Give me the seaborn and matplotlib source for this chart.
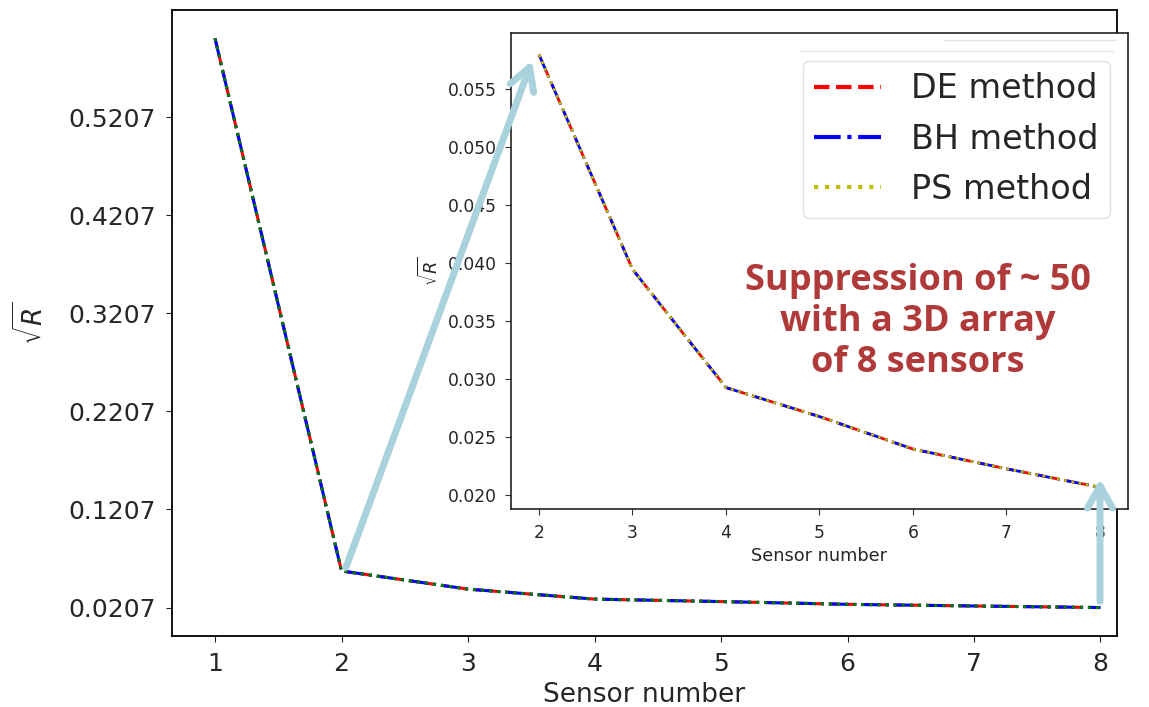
import matplotlib
matplotlib.use('Agg')
import matplotlib.pyplot as plt
from matplotlib.patches import FancyArrowPatch
from matplotlib.lines import Line2D
import seaborn as sns
import numpy as np

# sqrt(R) vs number of sensors for the three optimisation methods
sensors = [1, 2, 3, 4, 5, 6, 7, 8]
de_vals = [0.601, 0.0580, 0.0395, 0.0293, 0.0268, 0.0240, 0.0223, 0.0207]
bh_vals = [0.601, 0.0580, 0.0395, 0.0293, 0.0268, 0.0240, 0.0223, 0.0207]
ps_vals = [0.601, 0.0580, 0.0395, 0.0293, 0.0268, 0.0240, 0.0223, 0.0207]

inset_sensors = sensors[1:]
inset_ticks = [0.020, 0.025, 0.030, 0.035, 0.040, 0.045, 0.050, 0.055]
note = "Suppression of ~ 50\nwith a 3D array\nof 8 sensors"

sns.set_style('ticks')
plt.rcParams['font.family'] = ['DejaVu Sans']

fig = plt.figure(figsize=(11.49, 7.07), dpi=100)

# main axes
ax = fig.add_axes([0.1497, 0.1004, 0.8224, 0.8855])
sns.lineplot(x=sensors, y=de_vals, ax=ax, color='r', linestyle='--', lw=2.2)
sns.lineplot(x=sensors, y=bh_vals, ax=ax, color='b', linestyle='-.', lw=2.2)
sns.lineplot(x=sensors, y=ps_vals, ax=ax, color='g', linestyle=':', lw=2.2)
ax.set_xticks(sensors)
ax.set_xlim(0.66, 8.13)
ymin = min(de_vals)
main_ticks = np.arange(ymin, max(de_vals), 0.1)
ax.set_yticks(main_ticks)
ax.set_yticklabels([f'{v:.4f}' for v in main_ticks])
ax.tick_params(labelsize=18, length=4.5, pad=7, color='#222222')
ax.set_xlabel('Sensor number', fontsize=19, labelpad=4)
ax.set_ylabel(r'$\sqrt{R}$', fontsize=19, labelpad=14)
for s in ax.spines.values():
    s.set_visible(True)
    s.set_color('black')
    s.set_linewidth(1.3)

# inset axes
ins = fig.add_axes([0.4447, 0.2801, 0.5370, 0.6732])
sns.lineplot(x=inset_sensors, y=de_vals[1:], ax=ins, color='r', linestyle='--', lw=2, label='DE method')
sns.lineplot(x=inset_sensors, y=bh_vals[1:], ax=ins, color='b', linestyle='-.', lw=2, label='BH method')
sns.lineplot(x=inset_sensors, y=ps_vals[1:], ax=ins, color='y', linestyle=':', lw=2, label='PS method')
ins.set_xticks(inset_sensors)
ins.set_yticks(inset_ticks)
ins.set_yticklabels([f'{v:.3f}' for v in inset_ticks])
ins.tick_params(labelsize=12.3, length=4.5, pad=6, color='#333333')
ins.set_xlabel('Sensor number', fontsize=12.8)
ins.set_ylabel(r'$\sqrt{R}$', fontsize=12.8)
for s in ins.spines.values():
    s.set_visible(True)
    s.set_color('#222222')
    s.set_linewidth(1.2)
leg = ins.legend(loc='upper right', fontsize=24, handlelength=2.0, handletextpad=0.9,
                 borderpad=0.35, labelspacing=0.52, borderaxespad=0,
                 bbox_to_anchor=(0.971, 0.942))
leg.get_frame().set_edgecolor('#d8d8d8')
for h in leg.get_lines():
    h.set_linewidth(3)

# faint guide lines above the legend
for x0, x1, yy in [(0.700, 0.98, 0.985), (0.47, 0.975, 0.962)]:
    ins.add_line(Line2D([x0, x1], [yy, yy], transform=ins.transAxes,
                        color='#e6e6e6', lw=1))

ins.text(0.66, 0.393, note, transform=ins.transAxes, ha='center', va='center',
         fontsize=26, fontweight='bold', color='#b03a3a', family='Open Sans',
         linespacing=1.2)

# light blue arrows drawn on top of both axes
arrow_kw = dict(arrowstyle='->,head_length=0.8,head_width=0.45', color='#a9d2dc',
                lw=5, mutation_scale=20, transform=None, zorder=10)
for tail, head in [((345, 137), (533, 649)), ((1100, 103), (1100, 231))]:
    fig.add_artist(FancyArrowPatch(tail, head, **arrow_kw))

plt.savefig('out.png', dpi=100)
plt.close()
